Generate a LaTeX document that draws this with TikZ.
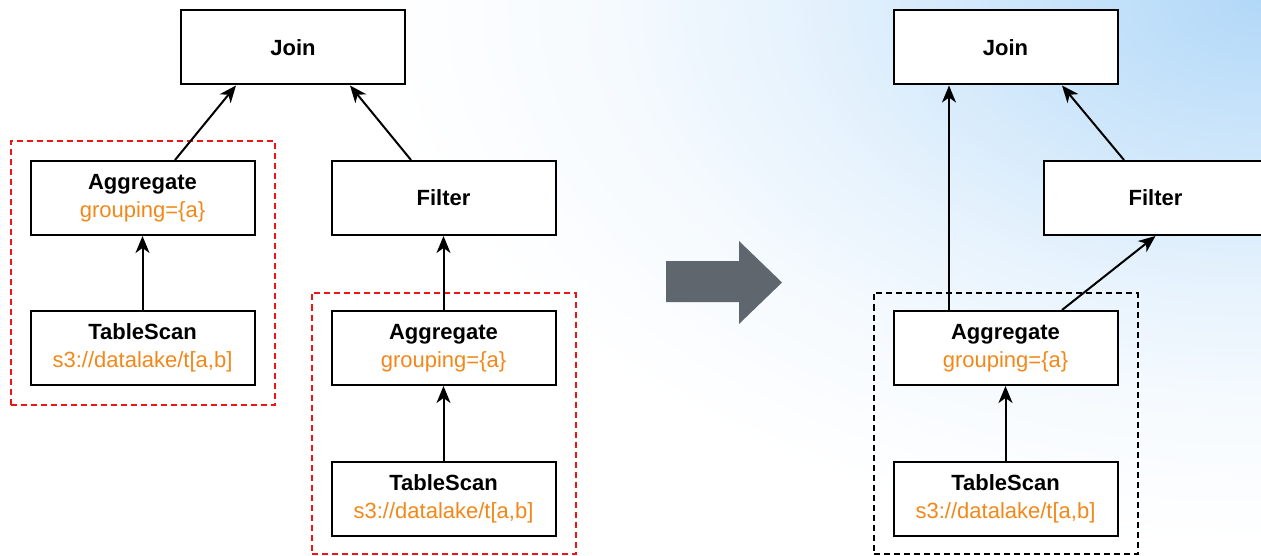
\documentclass[tikz,border=0pt]{standalone}
\usepackage{fontspec}
\setmainfont{Liberation Sans}
\usetikzlibrary{arrows.meta,fit}

\definecolor{skyblue}{HTML}{B2D8F8}
\definecolor{labelorange}{HTML}{F2881A}
\definecolor{slategray}{HTML}{5F666E}
\definecolor{groupred}{HTML}{F01515}

% glow that fades from the corner towards white
\pgfdeclareradialshading{cornerglow}{\pgfpoint{0bp}{0bp}}{%
  color(0bp)=(skyblue);
  color(5bp)=(skyblue!62!white);
  color(9bp)=(skyblue!32!white);
  color(12.5bp)=(skyblue!13!white);
  color(17bp)=(white);
  color(50bp)=(white)}

\tikzset{
  opbox/.style={draw=black, line width=2pt, fill=white, minimum width=224pt,
    minimum height=74pt, inner sep=0pt, align=center,
    font=\fontsize{22}{28}\selectfont},
  flow/.style={line width=2pt, -{Stealth[length=17pt, width=14pt, inset=5pt]}},
  groupbox/.style={line width=2pt, dash pattern=on 6pt off 4pt, inner xsep=19pt, inner ysep=19pt},
  redgroup/.style={groupbox, draw=groupred},
  blackgroup/.style={groupbox, draw=black},
  lowgroup/.style={inner ysep=17pt},
  bigarrow/.style={fill=slategray, draw=none},
}
\newcommand{\opname}[1]{\textbf{#1}}
\newcommand{\oparg}[1]{\textcolor{labelorange}{#1}}

\begin{document}
\begin{tikzpicture}[x=1pt, y=-1pt]
  \useasboundingbox (0,0) rectangle (1261,556);

  % backdrop
  \begin{scope}
    \clip (0,0) rectangle (1261,556);
    \fill[white] (0,0) rectangle (1261,556);
    \shade[shading=cornerglow] (1261,0) ellipse (1300 and 800);
  \end{scope}

  % ---- plan before the rewrite ----
  \node[opbox] (joinL) at (293,47.5) {\opname{Join}};
  \node[opbox] (aggL)  at (142.5,198) {\opname{Aggregate}\\\oparg{grouping=\{a\}}};
  \node[opbox] (tsL)   at (142.5,348) {\opname{TableScan}\\\oparg{s3://datalake/t[a,b]}};
  \node[opbox] (filtM) at (443.5,198) {\opname{Filter}};
  \node[opbox] (aggM)  at (443.5,348) {\opname{Aggregate}\\\oparg{grouping=\{a\}}};
  \node[opbox] (tsM)   at (443.5,498.5) {\opname{TableScan}\\\oparg{s3://datalake/t[a,b]}};

  \node[redgroup, fit=(aggL)(tsL)] (grpL) {};
  \node[redgroup, lowgroup, fit=(aggM)(tsM)] (grpM) {};

  \draw[flow] ([xshift=32.5pt]aggL.north) -- ([xshift=-57pt]joinL.south);
  \draw[flow] ([xshift=-32.5pt]filtM.north) -- ([xshift=57pt]joinL.south);
  \draw[flow] (tsL) -- (aggL);
  \draw[flow] (tsM) -- (aggM);
  \draw[flow] (aggM) -- (filtM);

  % ---- rewrite step ----
  \fill[bigarrow] (666,261) -- (739,261) -- (739,241) -- (782,282.5)
    -- (739,324) -- (739,302) -- (666,302) -- cycle;

  % ---- plan after the rewrite ----
  \node[opbox] (joinR) at (1005.5,47.5) {\opname{Join}};
  \node[opbox] (filtR) at (1155.5,198) {\opname{Filter}};
  \node[opbox] (aggR)  at (1005.5,348) {\opname{Aggregate}\\\oparg{grouping=\{a\}}};
  \node[opbox] (tsR)   at (1005.5,498.5) {\opname{TableScan}\\\oparg{s3://datalake/t[a,b]}};

  \node[blackgroup, lowgroup, fit=(aggR)(tsR)] (grpR) {};

  \draw[flow] ([xshift=-56.5pt]aggR.north) -- ([xshift=-56.5pt]joinR.south);
  \draw[flow] ([xshift=56.5pt]aggR.north) -- (filtR.south);
  \draw[flow] ([xshift=-31.5pt]filtR.north) -- ([xshift=56.5pt]joinR.south);
  \draw[flow] (tsR) -- (aggR);
\end{tikzpicture}
\end{document}
